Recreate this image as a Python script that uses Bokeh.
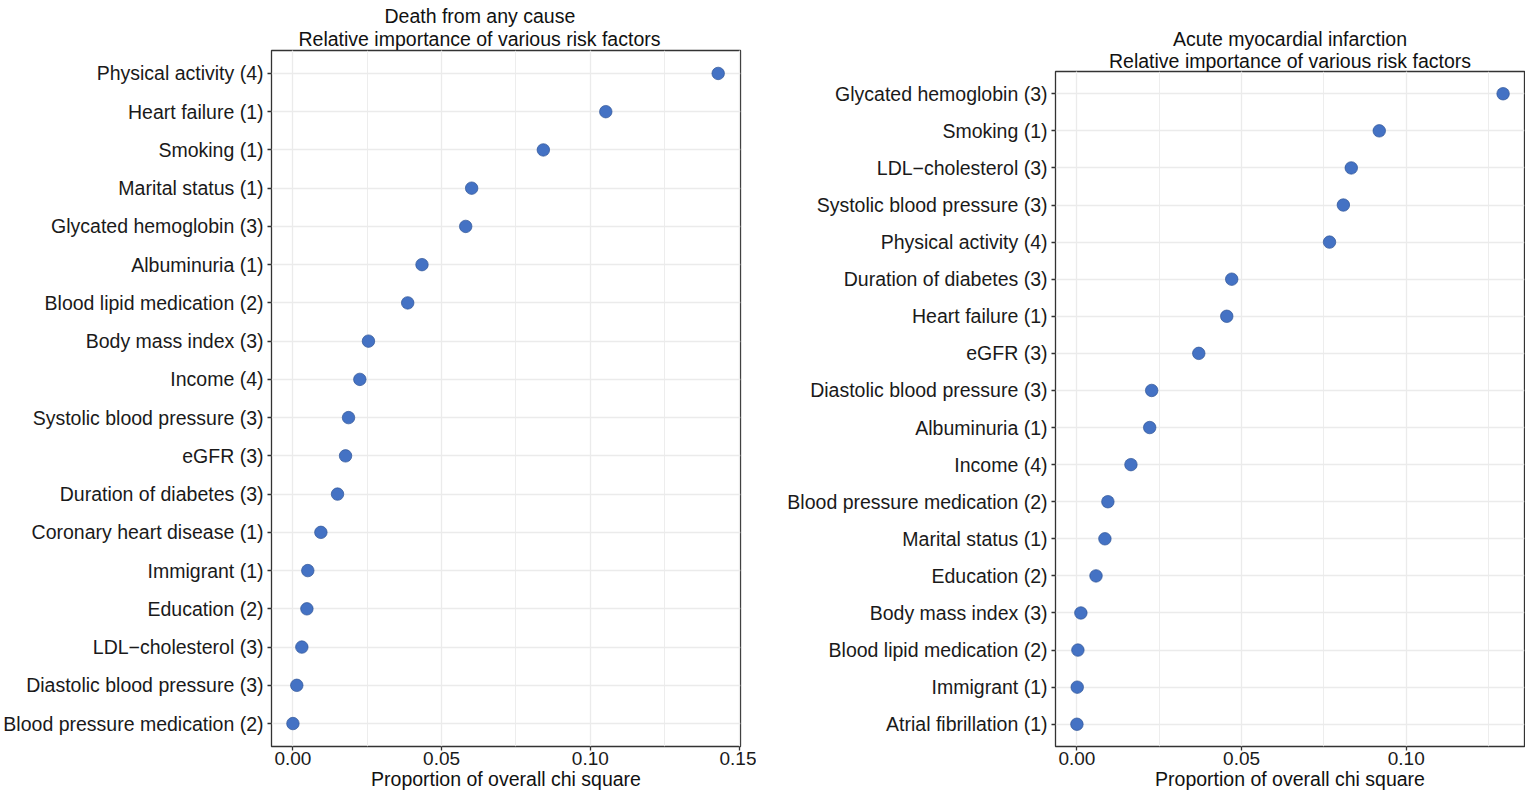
from bokeh.plotting import figure
from bokeh.models import (ColumnDataSource, FactorRange, Range1d, SingleIntervalTicker,
                          NumeralTickFormatter, Title)
from bokeh.layouts import row, column
from bokeh.embed import file_html
from bokeh.resources import INLINE

# ---------------- data ----------------
death_factors = [
    "Physical activity (4)", "Heart failure (1)", "Smoking (1)", "Marital status (1)",
    "Glycated hemoglobin (3)", "Albuminuria (1)", "Blood lipid medication (2)",
    "Body mass index (3)", "Income (4)", "Systolic blood pressure (3)", "eGFR (3)",
    "Duration of diabetes (3)", "Coronary heart disease (1)", "Immigrant (1)",
    "Education (2)", "LDL\u2212cholesterol (3)", "Diastolic blood pressure (3)",
    "Blood pressure medication (2)",
]
death_values = [0.1430, 0.1052, 0.0842, 0.0601, 0.0581, 0.0434, 0.0386, 0.0254, 0.0225,
                0.0187, 0.0177, 0.0150, 0.0094, 0.0050, 0.0047, 0.0030, 0.0013, 0.0000]

ami_factors = [
    "Glycated hemoglobin (3)", "Smoking (1)", "LDL\u2212cholesterol (3)",
    "Systolic blood pressure (3)", "Physical activity (4)", "Duration of diabetes (3)",
    "Heart failure (1)", "eGFR (3)", "Diastolic blood pressure (3)", "Albuminuria (1)",
    "Income (4)", "Blood pressure medication (2)", "Marital status (1)", "Education (2)",
    "Body mass index (3)", "Blood lipid medication (2)", "Immigrant (1)",
    "Atrial fibrillation (1)",
]
ami_values = [0.1294, 0.0918, 0.0833, 0.0809, 0.0767, 0.0470, 0.0455, 0.0370, 0.0227,
              0.0221, 0.0164, 0.0094, 0.0085, 0.0058, 0.0012, 0.0003, 0.0001, 0.0000]

death_title = ["Death from any cause", "Relative importance of various risk factors"]
ami_title = ["Acute myocardial infarction", "Relative importance of various risk factors"]
x_label = "Proportion of overall chi square"

# ---------------- style ----------------
FONT = "Liberation Sans"
DOT = "#4472C4"
GRID = "#EBEBEB"
BORDER = "#333333"
FS = "19.5px"


def panel(factors, values, title_lines, title_offsets, x_start, x_end, width, height,
          mb_left, mb_right, mb_top, mb_bottom, near_standoff):
    src = ColumnDataSource(dict(factor=factors, value=values))
    y_range = FactorRange(factors=list(reversed(factors)),
                          range_padding=0.2 / len(factors))
    p = figure(width=width, height=height, y_range=y_range,
               x_range=Range1d(x_start, x_end),
               output_backend="svg", toolbar_location=None,
               min_border_left=mb_left, min_border_right=mb_right,
               min_border_top=mb_top, min_border_bottom=mb_bottom)
    p.scatter(x="value", y="factor", source=src, size=12.5,
              fill_color=DOT, line_color="#2F5597", line_width=0.7)

    # titles: first added sits closest to the frame
    lines = list(zip(title_lines, title_offsets))
    for i, (t, off) in enumerate(reversed(lines)):
        if off is None:
            ttl = Title(text=t, align="center")
        else:
            ttl = Title(text=t, align="left", offset=off)
        ttl.text_font = FONT
        ttl.text_font_size = FS
        ttl.text_font_style = "normal"
        ttl.text_color = "#111111"
        ttl.standoff = near_standoff if i == 0 else -2
        p.add_layout(ttl, "above")

    ticker = SingleIntervalTicker(interval=0.05, num_minor_ticks=2)
    p.xaxis.ticker = ticker
    p.xgrid.ticker = ticker
    p.xaxis.formatter = NumeralTickFormatter(format="0.00")
    p.xaxis.axis_label = x_label

    for ax in (p.xaxis, p.yaxis):
        ax.axis_line_color = None
        ax.major_tick_line_color = BORDER
        ax.major_tick_line_width = 1.3
        ax.major_tick_out = 4
        ax.major_tick_in = 0
        ax.minor_tick_line_color = None
        ax.major_label_text_font = FONT
        ax.major_label_text_color = "#1A1A1A"
    p.yaxis.major_label_text_font_size = FS
    p.yaxis.major_label_standoff = 4
    p.xaxis.major_label_text_font_size = "19px"
    p.xaxis.major_label_standoff = 1
    p.xaxis.axis_label_text_font = FONT
    p.xaxis.axis_label_text_font_size = FS
    p.xaxis.axis_label_text_font_style = "normal"
    p.xaxis.axis_label_text_color = "#111111"
    p.xaxis.axis_label_standoff = 0

    p.xgrid.grid_line_color = GRID
    p.xgrid.grid_line_width = 1.3
    p.xgrid.minor_grid_line_color = GRID
    p.xgrid.minor_grid_line_width = 0.9
    p.ygrid.grid_line_color = GRID
    p.ygrid.grid_line_width = 1.3

    p.outline_line_color = BORDER
    p.outline_line_width = 1.3
    p.background_fill_color = "white"
    p.border_fill_color = "white"
    return p


p1 = panel(death_factors, death_values, death_title, [113, 27], -0.0072, 0.1505,
           width=756, height=792, mb_left=271, mb_right=16, mb_top=50, mb_bottom=44,
           near_standoff=1)
p2 = panel(ami_factors, ami_values, ami_title, [None, None], -0.0065, 0.1359,
           width=769, height=792, mb_left=299, mb_right=1, mb_top=71, mb_bottom=44,
           near_standoff=-1)

layout = row(column(p1), column(p2))
open("out.html", "w").write(file_html(layout, INLINE))
